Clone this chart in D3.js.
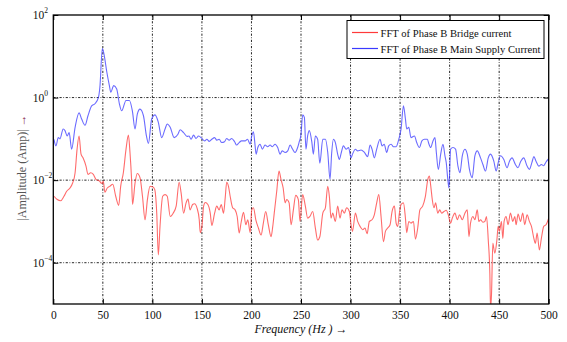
<!DOCTYPE html>
<html>
<head>
<meta charset="utf-8">
<script src="https://cdn.jsdelivr.net/npm/d3@7"></script>
<style>
  html, body { margin: 0; padding: 0; background: #fff; }
  svg { display: block; }
  text { font-family: "Liberation Serif", "DejaVu Serif", serif; }
</style>
</head>
<body>
<svg id="chart" width="567" height="342"></svg>
<script>
// Frequency axis ticks (Hz) and amplitude decades shown on the log axis
const xTicks = [0, 50, 100, 150, 200, 250, 300, 350, 400, 450, 500];
const yTickExponents = [-4, -2, 0, 2];

// FFT of phase B main supply current: frequency (Hz) and log10 amplitude (Amp)
const supplyFreq = [0.7,2.7,5,6.7,10,11.8,14,16,18.5,22,26,28.6,32,35,38.7,42,45.5,47,49.5,51,54,56.6,58,61,64,66.7,69,73.4,76.8,79.8,82.5,84.8,87.5,91,94,96,99.3,102.7,106,109.4,112.8,115,118,122,125.8,128,131.5,135,137,139,141.6,144,146.6,150,152.7,155,157.4,160,162.8,165,167.4,170,172.8,175,177.5,180,183,185,187.6,190,193.6,196,198.7,200.3,202,203.7,204.7,206.4,208.7,211,213.7,216.4,218.8,221,223.8,226.5,228.9,231,234,236.6,239,241.3,244,246.6,248,250,251.7,253.4,255,256.7,258.4,261,262.5,264.5,266.8,269,272,274.6,277,279.3,281,282.7,284.7,287,288.7,290.7,292.8,295.5,298,300.5,302,304.9,307.2,310.6,314,317.3,319.7,321.7,324,326.4,329.8,331.8,334,336.5,338.5,341,343.3,346,348.7,351,353.4,355.4,356.7,358.8,361,364.5,366.8,369.5,372,374.6,377.5,379.2,380.9,383.2,385.2,386.6,388.6,391,393.3,395.3,396.6,398,399.3,401,403.4,406,408.4,410.4,412.8,415.4,417.8,420,422.8,425.5,427.9,431.2,433.6,436.2,439,441.3,444.6,447,449,451.3,454.7,458,460.4,463,466.4,469,471.5,474.8,478.2,480.5,483.2,485,487.2,490,492.6,495,497.3,500];
const supplyLog10 = [-1.01,-1.17,-0.97,-1.0,-0.76,-0.80,-0.93,-0.85,-1.25,-0.72,-0.37,-0.52,-0.67,-0.44,-0.2,-0.15,0,0.25,1.19,1.07,0.62,0.29,0.13,0.29,0.21,-0.15,-0.32,-0.07,-0.07,-0.32,-0.76,-0.4,-0.28,-0.44,-0.93,-1.11,-0.52,-0.42,-0.6,-0.97,-0.76,-0.64,-0.72,-0.97,-0.89,-0.78,-0.85,-0.94,-0.93,-1.01,-0.91,-0.99,-0.93,-0.99,-1.05,-1.01,-1.06,-1.01,-0.97,-1.03,-1.01,-1.09,-1.07,-0.99,-1.03,-0.99,-1.07,-1.15,-1.09,-1.05,-1.05,-1.01,-1.13,-0.93,-0.83,-1.17,-1.37,-1.21,-1.13,-1.25,-1.15,-1.19,-1.15,-1.19,-1.13,-1.21,-1.37,-1.29,-1.33,-1.29,-1.15,-1.24,-1.33,-1.21,-1.09,-0.89,-0.42,-0.48,-1.25,-0.93,-0.8,-1.09,-1.37,-0.93,-1.01,-1.59,-1.01,-1.01,-1.33,-1.98,-1.33,-1.01,-1.09,-1.37,-1.5,-1.33,-1.17,-1.25,-1.21,-1.46,-1.37,-1.25,-1.29,-1.27,-1.33,-1.43,-1.15,-1.25,-1.46,-1.25,-1.01,-1.17,-1.13,-1.33,-1.17,-1.13,-1.19,-1.19,-1.01,-0.76,-0.2,-0.52,-0.76,-0.72,-0.97,-0.93,-1.09,-1.21,-1.05,-1.01,-1.01,-1.13,-1.21,-1.05,-0.97,-1.33,-1.74,-1.37,-1.13,-1.41,-1.58,-1.94,-2.19,-1.25,-1.21,-1.25,-1.66,-1.82,-1.41,-1.25,-1.37,-1.74,-1.94,-1.41,-1.29,-1.46,-1.62,-1.78,-1.46,-1.37,-1.54,-1.78,-1.58,-1.41,-1.5,-1.7,-1.54,-1.46,-1.62,-1.7,-1.56,-1.46,-1.66,-1.74,-1.56,-1.43,-1.54,-1.66,-1.62,-1.65,-1.56,-1.48];

// FFT of phase B bridge current: frequency (Hz) and log10 amplitude (Amp)
const bridgeFreq = [0.7,4,7.4,10.8,13.5,16.8,19.5,22,24,26,28,30,33,35,37.7,40.4,43,46.5,49,50.5,52,54.5,57,60,63,66,68,70.7,73.4,75.8,77.4,79,80,82.5,84.8,87.5,90,92.6,95,97.6,100.3,102.4,104.4,106,107.7,110.4,112.8,115,118,121,124,127,129,131.5,134,136,138,140.6,142.6,145,147.3,148.3,150,151.7,153.4,156,158.4,160,162.8,165,167.4,169.5,171.8,173.5,175,176.8,178.5,181,183.5,185.6,187.6,189.6,192,194.3,196.3,198.7,200.3,202,204.4,207,209.7,212,214.4,217,219.8,221.5,223,225.5,227.8,229.8,232,234,235.6,238,240,242.3,244.7,247.3,249,251.7,254.4,256.7,259,261.8,264.5,266.8,269,272,274.6,277,278.6,280.3,282,284.7,287,289.4,291.4,293.8,296,298.8,300.5,302,304.9,307.2,309.6,312.3,314.6,316.7,319,321.7,324,326.4,328.5,330.8,333.2,335.2,337.5,339.9,341.9,344.3,346,347.6,349.3,351,353.4,355.4,356.7,358.8,361,363.5,365.5,367.8,370,372.8,375.5,378,379.6,381,382.5,384.2,385.9,388,390,392,394.3,396.6,398.7,401,402.7,405.4,407.7,410,412.8,415.4,417.8,419.5,421.1,423.5,425.5,427.9,429.5,431.2,433.6,435.6,437.2,439,440.6,441.3,442.3,443.6,445.6,447.7,449,450.3,452.3,453.7,455,457,459,461.4,463.8,465.8,467.1,469.1,471.5,473.8,475.8,478.2,480.5,482.6,485,486.6,488.3,490.6,492.6,495,497.3,500];
const bridgeLog10 = [-2.39,-2.47,-2.5,-2.39,-2.27,-2.19,-2.07,-1.82,-1.25,-0.93,-1.37,-1.46,-1.66,-1.86,-1.82,-1.86,-1.98,-2.02,-2.08,-2.02,-2.29,-2.19,-2.15,-2.1,-2.39,-2.61,-2.15,-1.82,-1.25,-0.91,-1.33,-1.98,-2.59,-2.07,-1.84,-1.94,-2.39,-2.96,-2.47,-2.15,-2.16,-2.23,-2.8,-3.81,-3.12,-2.39,-2.35,-2.39,-2.88,-2.8,-2.63,-2.05,-2.31,-2.8,-2.55,-2.46,-2.72,-2.59,-2.57,-2.67,-2.96,-3.27,-3.12,-2.63,-2.54,-2.59,-2.8,-3.1,-2.8,-2.63,-2.72,-2.59,-2.8,-2.43,-2.05,-2.15,-2.39,-2.67,-2.72,-2.88,-3.28,-3.02,-2.78,-3.08,-2.96,-3.27,-2.72,-2.67,-2.96,-3.16,-3.33,-3.04,-2.76,-3.08,-3.37,-3.12,-2.8,-2.27,-1.78,-1.98,-2.19,-2.55,-2.47,-2.55,-3.08,-2.72,-2.37,-2.47,-3.0,-2.35,-2.63,-2.92,-2.88,-2.76,-3.16,-3.45,-3.37,-2.8,-2.67,-2.15,-2.39,-2.92,-2.8,-3.0,-2.63,-2.92,-2.72,-2.8,-2.67,-2.76,-3.08,-3.24,-2.8,-3.0,-3.12,-3.2,-3.16,-3.3,-3.0,-2.96,-2.84,-2.55,-2.35,-2.88,-3.49,-3.24,-3.16,-3.08,-2.76,-2.63,-3.04,-3.12,-2.8,-2.59,-2.55,-2.92,-3.27,-3.0,-3.04,-3.0,-3.43,-3.16,-2.72,-2.63,-2.4,-1.98,-1.9,-2.15,-2.47,-2.67,-2.55,-2.8,-2.72,-2.8,-2.76,-2.73,-2.84,-3.04,-2.92,-2.8,-2.96,-2.84,-2.96,-2.8,-2.72,-3.37,-3.04,-2.88,-2.96,-2.72,-3.0,-2.96,-3.02,-3.0,-2.88,-3.45,-4.26,-5.1,-4.75,-3.53,-3.77,-3.45,-3.12,-3.24,-3.0,-3.41,-3.0,-2.88,-3.08,-2.8,-3.0,-2.88,-3.08,-2.82,-3.0,-2.8,-3.08,-2.84,-3.0,-3.12,-3.41,-3.53,-3.28,-3.69,-3.41,-3.12,-3.08,-2.92];

const seriesNames = ["FFT of Phase B Bridge current", "FFT of Phase B Main Supply Current"];
const seriesColors = ["#ff3a3a", "#3a3aff"];

if (supplyFreq.length !== supplyLog10.length) throw new Error("supply " + supplyFreq.length + " vs " + supplyLog10.length);
if (bridgeFreq.length !== bridgeLog10.length) throw new Error("bridge " + bridgeFreq.length + " vs " + bridgeLog10.length);

const svg = d3.select("#chart");
const plotL = 53.3, plotR = 548.7, plotT = 15, plotB = 304;

const x = d3.scaleLinear().domain([0, 500]).range([plotL, plotR]);
const y = d3.scaleLog().domain([1e-5, 1e2]).range([plotB, plotT]);

// clip region for the traces
svg.append("defs").append("clipPath").attr("id", "plotClip")
  .append("rect").attr("x", plotL).attr("y", plotT)
  .attr("width", plotR - plotL).attr("height", plotB - plotT);

// dash-dot grid
const grid = svg.append("g").attr("stroke", "#000").attr("stroke-width", 0.85)
  .attr("stroke-dasharray", "2.2,1.6,0.8,1.6");
grid.selectAll("line.v").data(xTicks.filter(d => d > 0 && d < 500)).join("line").attr("class", "v")
  .attr("x1", d => x(d)).attr("x2", d => x(d)).attr("y1", plotT).attr("y2", plotB);
grid.selectAll("line.h").data(yTickExponents.filter(e => e > -5 && e < 2)).join("line").attr("class", "h")
  .attr("y1", e => y(10 ** e)).attr("y2", e => y(10 ** e)).attr("x1", plotL).attr("x2", plotR);

// traces
const line = d3.line().x(d => x(d[0])).y(d => y(d[1])).curve(d3.curveMonotoneX);
const bridgePts = bridgeFreq.map((f, i) => [f, 10 ** bridgeLog10[i]]);
const supplyPts = supplyFreq.map((f, i) => [f, 10 ** supplyLog10[i]]);
const traces = svg.append("g").attr("clip-path", "url(#plotClip)");
traces.append("path").datum(bridgePts).attr("d", line)
  .attr("fill", "none").attr("stroke", seriesColors[0]).attr("stroke-width", 1.1).attr("stroke-opacity", 0.75);
traces.append("path").datum(supplyPts).attr("d", line)
  .attr("fill", "none").attr("stroke", seriesColors[1]).attr("stroke-width", 1.1).attr("stroke-opacity", 0.75);

// axes with inward ticks
const xb = svg.append("g").attr("transform", `translate(0,${plotB})`)
  .call(d3.axisBottom(x).tickValues(xTicks).tickSize(-5).tickPadding(7).tickFormat(d3.format("d")));
const xt = svg.append("g").attr("transform", `translate(0,${plotT})`)
  .call(d3.axisTop(x).tickValues(xTicks).tickSize(-5).tickFormat(""));
const yTickVals = yTickExponents.map(e => 10 ** e);
const yl = svg.append("g").attr("transform", `translate(${plotL},0)`)
  .call(d3.axisLeft(y).tickValues(yTickVals).tickSize(-5).tickFormat(""));
const yr = svg.append("g").attr("transform", `translate(${plotR},0)`)
  .call(d3.axisRight(y).tickValues(yTickVals).tickSize(-5).tickFormat(""));
[xb, xt, yl, yr].forEach(g => {
  g.select(".domain").remove();
  g.selectAll(".tick line").attr("stroke", "#000").attr("stroke-width", 1);
});
xb.selectAll(".tick text").attr("font-size", 11.5).attr("fill", "#111")
  .style("font-family", "'Liberation Serif', serif");

// power-of-ten labels
const yLab = svg.append("g");
yTickExponents.forEach(e => {
  yLab.append("text").attr("x", plotL - 9).attr("y", y(10 ** e) + 4)
    .attr("text-anchor", "end").attr("font-size", 11.5).attr("fill", "#111").text("10");
  const sup = e < 0 ? "\u2212" + Math.abs(e) : String(e);
  yLab.append("text").attr("x", plotL - 9).attr("y", y(10 ** e) - 2)
    .attr("font-size", 7.5).attr("fill", "#111").text(sup);
});

// frame
svg.append("rect").attr("x", plotL).attr("y", plotT)
  .attr("width", plotR - plotL).attr("height", plotB - plotT)
  .attr("fill", "none").attr("stroke", "#000").attr("stroke-width", 1.3);

// axis titles
const yTitle = svg.append("text")
  .attr("transform", `translate(26,${(plotT + plotB) / 2 + 8}) rotate(-90)`)
  .attr("text-anchor", "middle").attr("font-size", 12).attr("fill", "#555");
yTitle.append("tspan").text("|Amplitude (Amp)| ");
yTitle.append("tspan").attr("fill", "#8a1f4f").text("\u2192");

const xTitle = svg.append("text").attr("x", (plotL + plotR) / 2).attr("y", 333)
  .attr("text-anchor", "middle").attr("font-size", 12).attr("font-style", "italic").attr("fill", "#111");
xTitle.append("tspan").text("Frequency (Hz ) ");
xTitle.append("tspan").attr("font-style", "normal").text("\u2192");

// legend
const lg = svg.append("g");
lg.append("rect").attr("x", 347).attr("y", 20.5).attr("width", 197).attr("height", 38)
  .attr("fill", "#fff").attr("stroke", "#000").attr("stroke-width", 1);
seriesNames.forEach((name, i) => {
  const cy = 32.5 + i * 16;
  lg.append("line").attr("x1", 352).attr("x2", 378).attr("y1", cy).attr("y2", cy)
    .attr("stroke", seriesColors[i]).attr("stroke-width", 1.2);
  lg.append("text").attr("x", 380.5).attr("y", cy + 4).attr("font-size", 11)
    .attr("textLength", i === 0 ? 131 : 160).attr("lengthAdjust", "spacingAndGlyphs")
    .attr("fill", "#111").text(name);
});
</script>
</body>
</html>
